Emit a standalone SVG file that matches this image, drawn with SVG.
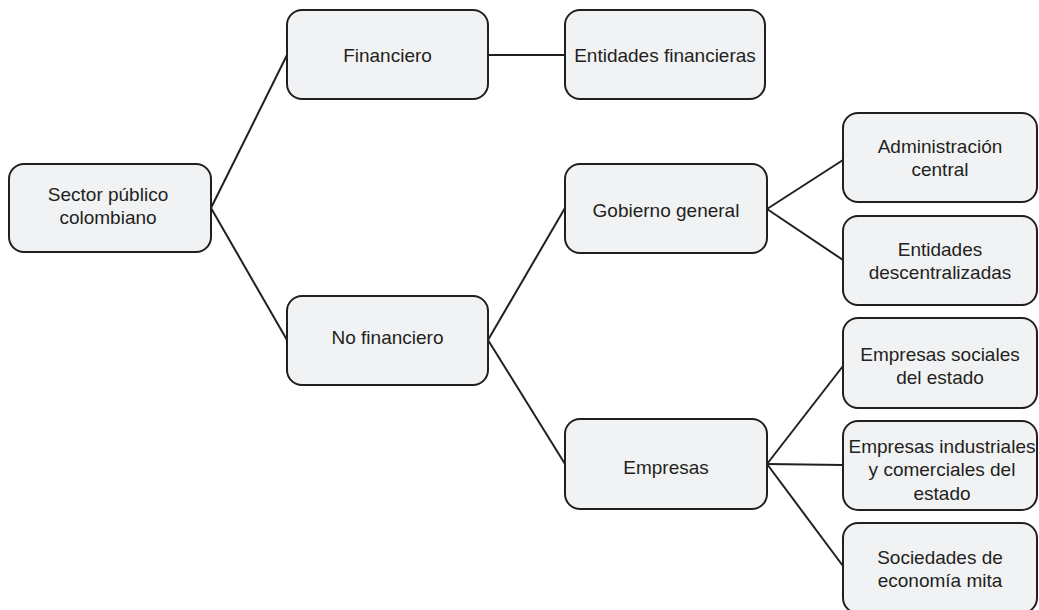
<svg xmlns="http://www.w3.org/2000/svg" width="1039" height="610" viewBox="0 0 1039 610">
<style>
.box{fill:#f1f2f4;stroke:#231f20;stroke-width:2}
.t{font-family:"Liberation Sans",Arial,sans-serif;font-size:19px;fill:#231f20;text-anchor:middle}
.c{stroke:#231f20;stroke-width:2;fill:none}
</style>
<rect width="1039" height="610" fill="#ffffff"/>
<g id="connectors">
<line class="c" x1="211" y1="208" x2="287" y2="55"/>
<line class="c" x1="211" y1="208" x2="287" y2="340"/>
<line class="c" x1="488" y1="55" x2="565" y2="55"/>
<line class="c" x1="488" y1="340" x2="565" y2="208"/>
<line class="c" x1="488" y1="340" x2="565" y2="464"/>
<line class="c" x1="767" y1="209" x2="843" y2="160"/>
<line class="c" x1="767" y1="209" x2="843" y2="260"/>
<line class="c" x1="767" y1="464" x2="843" y2="366"/>
<line class="c" x1="767" y1="464" x2="843" y2="465"/>
<line class="c" x1="767" y1="464" x2="843" y2="566"/>
</g>
<g id="n-sector">
<rect class="box" x="9" y="164" width="202" height="88" rx="15"/>
<text class="t" x="108" y="201">Sector público</text>
<text class="t" x="108" y="224">colombiano</text>
</g>
<g id="n-financiero">
<rect class="box" x="287" y="10" width="201" height="89" rx="15"/>
<text class="t" x="387.5" y="62">Financiero</text>
</g>
<g id="n-entidades-financieras">
<rect class="box" x="565" y="10" width="200" height="89" rx="15"/>
<text class="t" x="665" y="62">Entidades financieras</text>
</g>
<g id="n-no-financiero">
<rect class="box" x="287" y="296" width="201" height="89" rx="15"/>
<text class="t" x="387.5" y="344">No financiero</text>
</g>
<g id="n-gobierno">
<rect class="box" x="565" y="164" width="202" height="89" rx="15"/>
<text class="t" x="666" y="217">Gobierno general</text>
</g>
<g id="n-empresas">
<rect class="box" x="565" y="419" width="202" height="90" rx="15"/>
<text class="t" x="666" y="474">Empresas</text>
</g>
<g id="n-admin">
<rect class="box" x="843" y="113" width="194" height="89" rx="15"/>
<text class="t" x="940" y="153">Administración</text>
<text class="t" x="940" y="176">central</text>
</g>
<g id="n-descentralizadas">
<rect class="box" x="843" y="216" width="194" height="89" rx="15"/>
<text class="t" x="940" y="256">Entidades</text>
<text class="t" x="940" y="279">descentralizadas</text>
</g>
<g id="n-sociales">
<rect class="box" x="843" y="318" width="194" height="90" rx="15"/>
<text class="t" x="940" y="361">Empresas sociales</text>
<text class="t" x="940" y="384">del estado</text>
</g>
<g id="n-industriales">
<rect class="box" x="843" y="421" width="194" height="89" rx="15"/>
<text class="t" x="942" y="453">Empresas industriales</text>
<text class="t" x="942" y="476">y comerciales del</text>
<text class="t" x="942" y="500">estado</text>
</g>
<g id="n-sociedades">
<rect class="box" x="843" y="523" width="194" height="90" rx="15"/>
<text class="t" x="940" y="564">Sociedades de</text>
<text class="t" x="940" y="587">economía mita</text>
</g>
</svg>
